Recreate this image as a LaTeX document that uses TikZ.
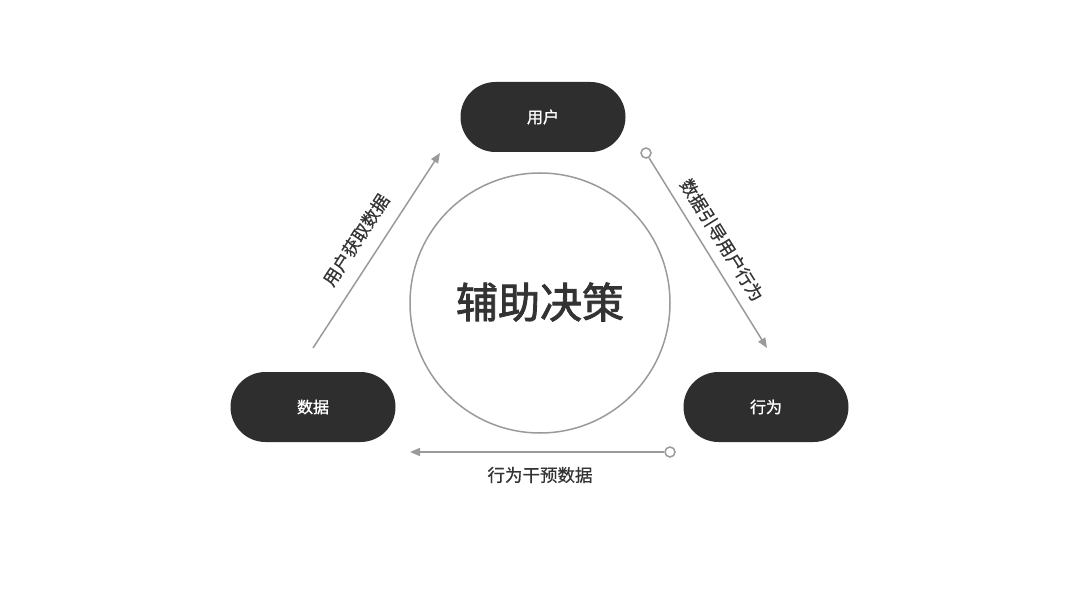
\documentclass[tikz,border=0pt]{standalone}
\usepackage{fontspec}
\setmainfont{Noto Sans CJK SC}
\newfontfamily\cjkmid[FakeBold=1.2]{Noto Sans CJK SC}
\newfontfamily\cjksemi[FakeBold=0.5]{Noto Sans CJK SC}
\newfontfamily\cjkcore[FakeBold=2]{Noto Sans CJK SC}
\usetikzlibrary{arrows.meta}
\definecolor{pill}{HTML}{2E2E2E}
\definecolor{linegray}{HTML}{9A9A9A}
\definecolor{txt}{HTML}{333333}
\begin{document}
\begin{tikzpicture}[x=1pt,y=-1pt,
  pillbox/.style={rounded corners=35pt, fill=pill, minimum width=165pt, minimum height=70pt, inner sep=0pt, text=white, font=\cjkmid\fontsize{16}{18}\selectfont},
  flow/.style={draw=linegray, line width=1.5pt, -{Triangle[length=10pt,width=8pt]}},
  dot/.style={circle, draw=linegray, line width=1.5pt, fill=white, minimum size=10pt, inner sep=0pt},
  lab/.style={text=txt, font=\cjksemi\fontsize{17.5}{20}\selectfont, inner sep=0pt}]
\useasboundingbox[fill=white] (0,0) rectangle (1080,607);
\node[circle, draw=linegray, line width=1.5pt, minimum size=260pt, inner sep=0pt] (core) at (540,303) {};
\node[text=txt, font=\cjkcore\fontsize{42}{46}\selectfont] (coretext) at (540,302) {辅助决策};
\node[pillbox] (user) at (543,117) {用户};
\node[pillbox] (data) at (313,407) {数据};
\node[pillbox] (act) at (766,407) {行为};
\coordinate (a1s) at (313,348);
\coordinate (a1e) at (440,153);
\node[dot] (d2) at (646,153) {};
\coordinate (a2e) at (767,348);
\node[dot] (d3) at (670,452) {};
\coordinate (a3e) at (410,452);
\draw[flow] (a1s) -- (a1e);
\draw[flow] (d2) -- (a2e);
\draw[flow] (d3) -- (a3e);
\node[lab, rotate=57] (l1) at (356,240) {用户获取数据};
\node[lab, rotate=-58] (l2) at (722,240) {数据引导用户行为};
\node[lab] (l3) at (540,475) {行为干预数据};
\end{tikzpicture}
\end{document}
